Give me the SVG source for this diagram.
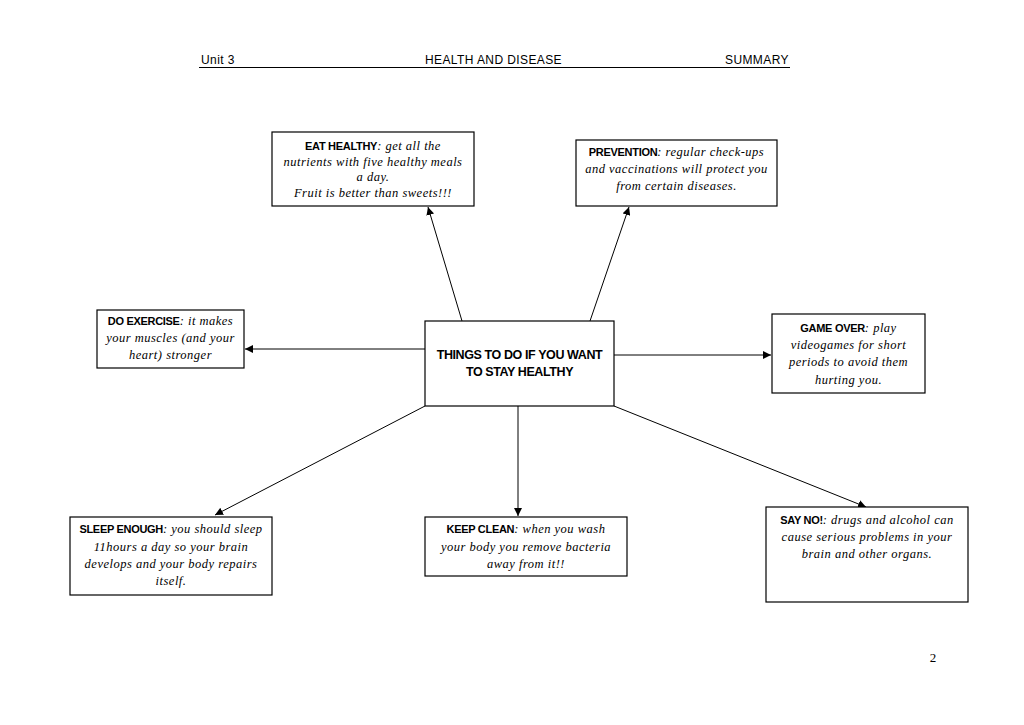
<svg xmlns="http://www.w3.org/2000/svg" width="1024" height="725" viewBox="0 0 1024 725">
<defs>
<marker id="ah" viewBox="0 0 10 10" refX="10" refY="5" markerWidth="8" markerHeight="8" markerUnits="userSpaceOnUse" orient="auto">
<path d="M0,0 L10,5 L0,10 z" fill="#000"/>
</marker>
<style>
.box{fill:#fff;stroke:#000;stroke-width:1.2}
.t{font-family:"Liberation Serif",serif;font-style:italic;font-size:12.5px;letter-spacing:0.5px;fill:#000;text-anchor:middle}
.b{font-family:"Liberation Sans",Arial,sans-serif;font-style:normal;font-weight:bold;font-size:11px;letter-spacing:-0.3px}
.hd{font-family:"Liberation Sans",Arial,sans-serif;font-size:12px;letter-spacing:0.4px;fill:#000}
.c{font-family:"Liberation Sans",Arial,sans-serif;font-weight:bold;font-size:12.5px;text-anchor:middle;letter-spacing:-0.4px}
.ln{stroke:#000;stroke-width:1;fill:none;marker-end:url(#ah)}
</style>
</defs>
<rect width="1024" height="725" fill="#fff"/>
<g id="header">
<text class="hd" x="201" y="64">Unit 3</text>
<text class="hd" x="425" y="64">HEALTH AND DISEASE</text>
<text class="hd" x="725" y="64">SUMMARY</text>
<line x1="199" y1="67.5" x2="790" y2="67.5" stroke="#000" stroke-width="1"/>
</g>
<g id="connectors">
<line class="ln" x1="462" y1="321" x2="428" y2="207"/>
<line class="ln" x1="590" y1="321" x2="629" y2="207"/>
<line class="ln" x1="425" y1="349" x2="245" y2="349"/>
<line class="ln" x1="614" y1="355" x2="771" y2="355"/>
<line class="ln" x1="425" y1="406" x2="215" y2="515"/>
<line class="ln" x1="518" y1="406" x2="518" y2="516"/>
<line class="ln" x1="614" y1="406" x2="866" y2="507"/>
</g>
<g id="center">
<rect class="box" x="425" y="321" width="189" height="85"/>
<text class="c" x="519.5" y="359">THINGS TO DO IF YOU WANT</text>
<text class="c" x="519.5" y="376">TO STAY HEALTHY</text>
</g>
<g id="eat-healthy">
<rect class="box" x="272" y="132" width="202" height="74"/>
<text class="t" x="373" y="150"><tspan class="b">EAT HEALTHY</tspan>: get all the</text>
<text class="t" x="373" y="166">nutrients with five healthy meals</text>
<text class="t" x="373" y="181">a day.</text>
<text class="t" x="373" y="197">Fruit is better than sweets!!!</text>
</g>
<g id="prevention">
<rect class="box" x="576" y="140" width="201" height="66"/>
<text class="t" x="676.5" y="156"><tspan class="b">PREVENTION</tspan>: regular check-ups</text>
<text class="t" x="676.5" y="173">and vaccinations will protect you</text>
<text class="t" x="676.5" y="190">from certain diseases.</text>
</g>
<g id="do-exercise">
<rect class="box" x="97" y="310" width="147" height="58"/>
<text class="t" x="170.5" y="325"><tspan class="b">DO EXERCISE</tspan>: it makes</text>
<text class="t" x="170.5" y="342">your muscles (and your</text>
<text class="t" x="170.5" y="359">heart) stronger</text>
</g>
<g id="game-over">
<rect class="box" x="772" y="314" width="153" height="79"/>
<text class="t" x="848.5" y="332"><tspan class="b">GAME OVER</tspan>: play</text>
<text class="t" x="848.5" y="349">videogames for short</text>
<text class="t" x="848.5" y="366">periods to avoid them</text>
<text class="t" x="848.5" y="384">hurting you.</text>
</g>
<g id="sleep-enough">
<rect class="box" x="70" y="517" width="202" height="78"/>
<text class="t" x="171" y="533"><tspan class="b">SLEEP ENOUGH</tspan>: you should sleep</text>
<text class="t" x="171" y="551">11hours a day so your brain</text>
<text class="t" x="171" y="568">develops and your body repairs</text>
<text class="t" x="171" y="585">itself.</text>
</g>
<g id="keep-clean">
<rect class="box" x="425" y="517" width="202" height="59"/>
<text class="t" x="526" y="533"><tspan class="b">KEEP CLEAN</tspan>: when you wash</text>
<text class="t" x="526" y="551">your body you remove bacteria</text>
<text class="t" x="526" y="568">away from it!!</text>
</g>
<g id="say-no">
<rect class="box" x="766" y="507" width="202" height="95"/>
<text class="t" x="867" y="524"><tspan class="b">SAY NO!</tspan>: drugs and alcohol can</text>
<text class="t" x="867" y="541">cause serious problems in your</text>
<text class="t" x="867" y="558">brain and other organs.</text>
</g>
<text x="933" y="662" font-family="Liberation Serif, serif" font-size="13" text-anchor="middle">2</text>
</svg>
